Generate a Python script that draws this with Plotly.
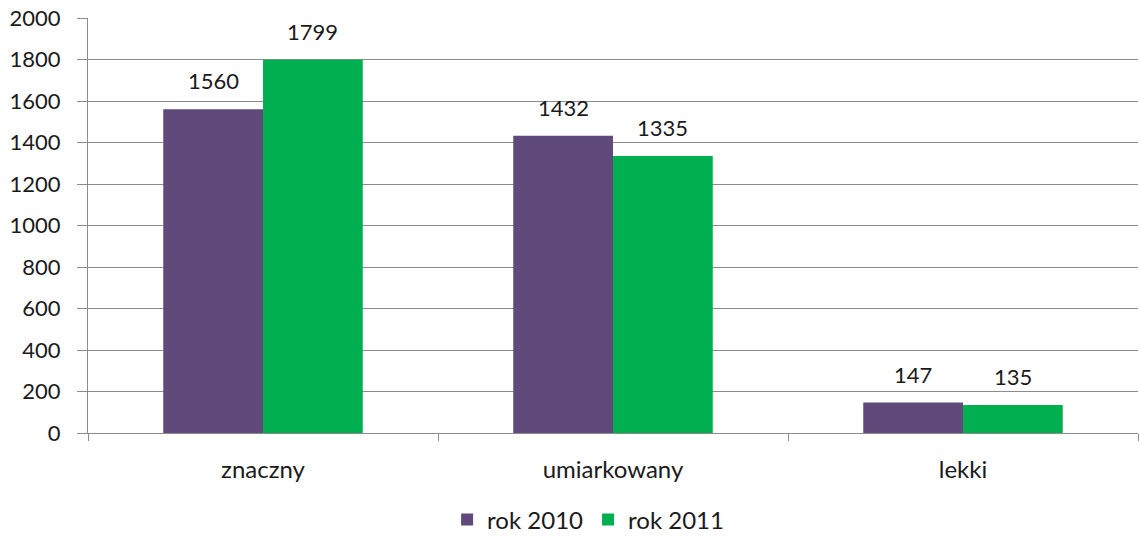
import plotly.graph_objects as go

categories = ["znaczny", "umiarkowany", "lekki"]
values_2010 = [1560, 1432, 147]
values_2011 = [1799, 1335, 135]
series_names = ["rok 2010", "rok 2011"]
y_ticks = list(range(0, 2001, 200))

FONT = "Lato, Calibri, sans-serif"
TXT = "#1a1a1a"
fig = go.Figure()
fig.add_trace(go.Bar(x=categories, y=values_2010, name=series_names[0],
                     marker=dict(color="#604A7B", line=dict(width=0)),
                     offsetgroup="a"))
fig.add_trace(go.Bar(x=categories, y=values_2011, name=series_names[1],
                     marker=dict(color="#00B050", line=dict(width=0)),
                     offsetgroup="b"))

bargap = 0.43
half = (1 - bargap) / 4  # offset of each bar centre from category centre
for i, cat in enumerate(categories):
    for vals, off in ((values_2010, -half), (values_2011, half)):
        fig.add_annotation(x=i + off, y=vals[i], xref="x", yref="y", text=str(vals[i]),
                           showarrow=False, yanchor="bottom", yshift=13,
                           font=dict(size=22, color=TXT, family=FONT))

# figure is a few px taller than the window so the legend box fits without pushing margins
fig.update_layout(
    width=1139, height=544,
    margin=dict(l=88, r=1, t=18, b=111),
    paper_bgcolor="white", plot_bgcolor="white",
    barmode="group", bargap=bargap, bargroupgap=0,
    font=dict(family=FONT, size=22, color=TXT),
    showlegend=True,
    legend=dict(orientation="h", x=0.342, xanchor="left", y=-0.155, yanchor="top",
                font=dict(size=24), itemwidth=30, tracegroupgap=0),
)
fig.update_yaxes(range=[0, 2000], tickvals=y_ticks, showgrid=True, gridcolor="#8C8C8C",
                 gridwidth=1, ticks="outside", ticklen=10, tickcolor="#8C8C8C",
                 showline=True, linecolor="#8C8C8C", linewidth=1, zeroline=False,
                 tickfont=dict(size=22), automargin=False, ticklabelstandoff=12,
                 ticklabeloverflow="allow")
fig.update_xaxes(showline=True, linecolor="#8C8C8C", linewidth=1, ticks="outside",
                 tickson="boundaries", ticklen=7, tickcolor="#8C8C8C",
                 tickfont=dict(size=24), automargin=False, ticklabelstandoff=15,
                 range=[-0.5, 2.5])

# remove the browser's default 8px body margin so the figure fills the window exactly
fig.write_html("out.html", config={"displayModeBar": False},
               post_script="document.body.style.margin='0';document.body.style.overflow='hidden';")
